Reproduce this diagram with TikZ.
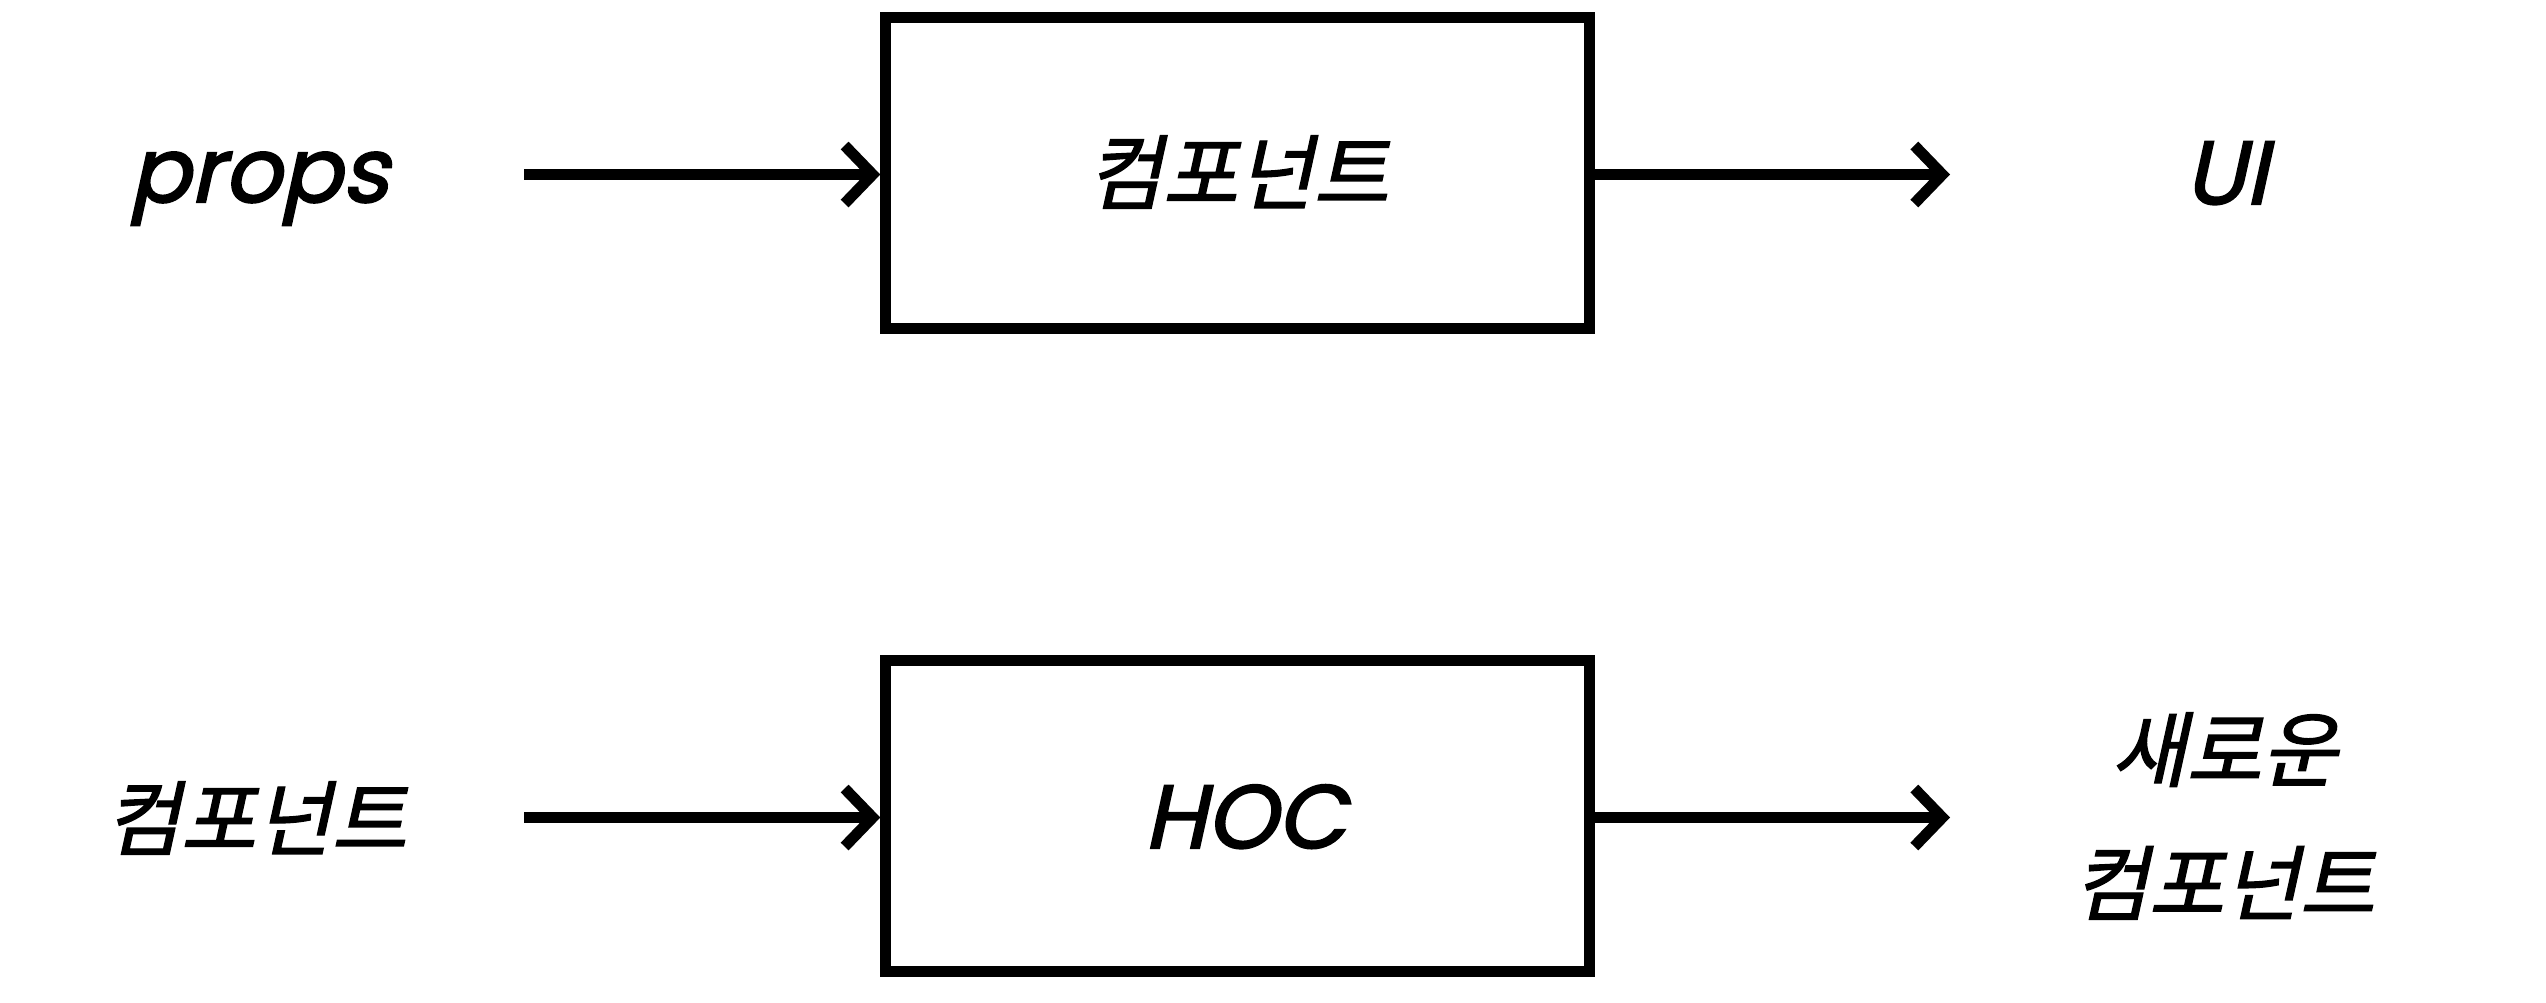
\documentclass[tikz,border=0pt]{standalone}
\usepackage{fontspec}
\usetikzlibrary{arrows.meta}
\newfontfamily\kofont[FakeSlant=0.22, FakeBold=1.6]{Noto Sans CJK KR}
\newfontfamily\lafont[FakeSlant=0.22, FakeBold=2.2]{Poppins}
\tikzset{
  box/.style={draw=black, line width=0.11cm, minimum width=7.035cm, minimum height=3.105cm, inner sep=0pt},
  ko/.style={font=\kofont\fontsize{23.3}{38}\selectfont, inner sep=0pt, align=center},
  la/.style={font=\lafont\fontsize{25.5}{30}\selectfont, inner sep=0pt, anchor=base},
  flow/.style={line width=0.11cm, line cap=butt, -{Straight Barb[length=0.28cm, width=0.58cm, line join=miter, line cap=butt]}}
}
\begin{document}
\begin{tikzpicture}[x=0.01cm, y=-0.01cm]
\useasboundingbox (0,0) rectangle (2546,1002);
\node[box] (comp) at (1237.75,173.25) {};
\node[ko] (compLabel) at (1238,172) {컴포넌트};
\node[la] (props) at (259,202) {props};
\node[la] (ui) at (2226,204) {UI};
\coordinate (propsOut) at (524,174.5);
\coordinate (uiIn) at (1950,174.5);
\draw[flow] (propsOut) -- (comp.west |- propsOut);
\draw[flow] (comp.east |- uiIn) -- (uiIn);

\node[box] (hoc) at (1237.75,816) {};
\node[la] (hocLabel) at (1245,848) {HOC};
\node[ko] (inComp) at (256,818) {컴포넌트};
\node[ko] (newComp) at (2224,816) {새로운\\컴포넌트};
\coordinate (inOut) at (524,817.5);
\coordinate (newIn) at (1950,817.5);
\draw[flow] (inOut) -- (hoc.west |- inOut);
\draw[flow] (hoc.east |- newIn) -- (newIn);
\end{tikzpicture}
\end{document}
